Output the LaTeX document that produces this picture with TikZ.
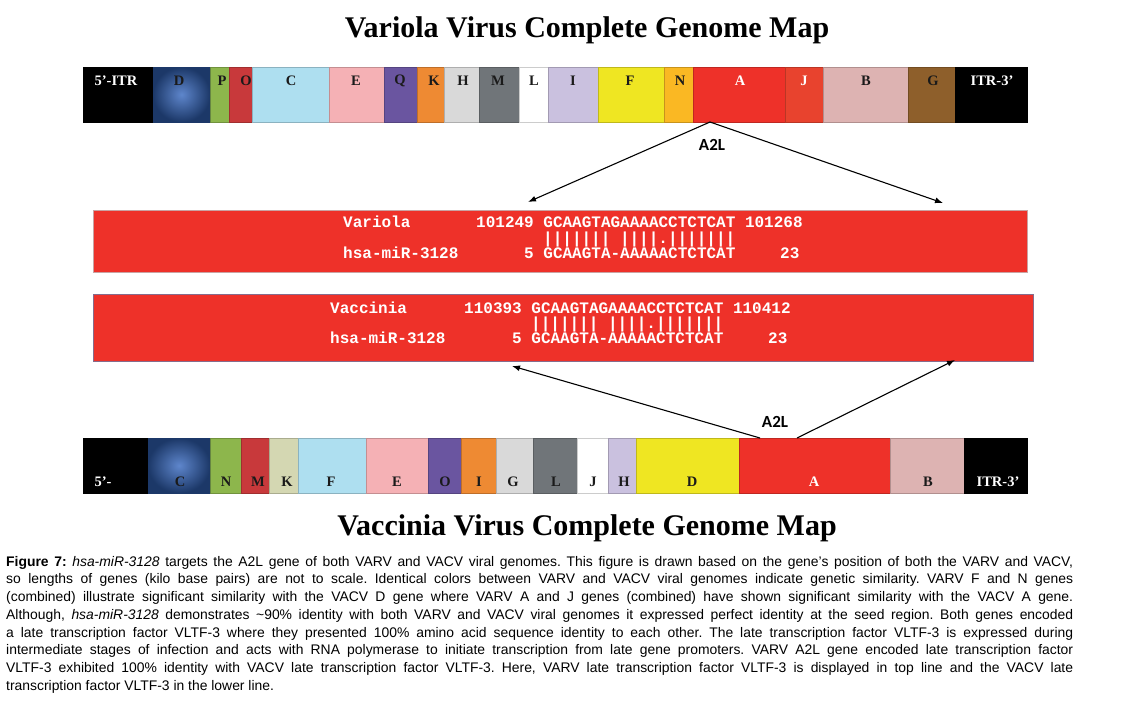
\documentclass[tikz,border=0pt]{standalone}
\usepackage{fontspec}
\setmainfont{Liberation Serif}
\setsansfont{Liberation Sans}
\setmonofont{Liberation Mono}
\newfontfamily\calfont{Carlito}
\usetikzlibrary{arrows.meta,positioning,calc}
\definecolor{gblack}{HTML}{000000}
\definecolor{gnavy}{HTML}{2E5596}
\definecolor{gnavyin}{HTML}{5E86CC}
\definecolor{gnavyout}{HTML}{1C3868}
\definecolor{ggreen}{HTML}{8DB64C}
\definecolor{gbrick}{HTML}{C8393B}
\definecolor{gsky}{HTML}{AEDFF0}
\definecolor{gpink}{HTML}{F5B1B5}
\definecolor{gviolet}{HTML}{6A55A0}
\definecolor{gorange}{HTML}{EE8A33}
\definecolor{gsilver}{HTML}{D9D9D9}
\definecolor{gslate}{HTML}{707579}
\definecolor{gwhite}{HTML}{FFFFFF}
\definecolor{glilac}{HTML}{CAC1DF}
\definecolor{gyellow}{HTML}{EFE622}
\definecolor{gamber}{HTML}{FAB823}
\definecolor{gred}{HTML}{EE3129}
\definecolor{gvermil}{HTML}{E8432E}
\definecolor{grose}{HTML}{DDB3B2}
\definecolor{gbrown}{HTML}{8E5F2B}
\definecolor{gkhaki}{HTML}{D4D7B2}
\definecolor{gink}{HTML}{1A1A1A}
\definecolor{varedge}{HTML}{C9A3A3}
\definecolor{vacedge}{HTML}{866C8C}
\tikzset{
  gseg/.style={
    draw=#1!80!black, line width=0.5pt, fill=#1,
    inner sep=0pt, outer sep=0pt, minimum height=55pt, anchor=north west},
  glab/.style={text=#1, font=\fontsize{14.5}{16}\selectfont\bfseries, inner sep=0pt},
  gtitle/.style={font=\fontsize{30}{34}\selectfont\bfseries, inner sep=0pt},
  abox/.style={
    fill=gred, draw=#1, line width=0.9pt, inner sep=0pt, outer sep=0pt,
    anchor=north west},
  aseq/.style={
    text=white, font=\ttfamily\bfseries\fontsize{16}{18}\selectfont,
    inner sep=0pt, anchor=base west},
  aflow/.style={-{Latex[length=8pt,width=6pt]}, draw=black, line width=1.1pt},
  anote/.style={font=\calfont\bfseries\fontsize{17}{20}\selectfont, inner sep=0pt},
  capt/.style={
    font=\sffamily\fontsize{13.9}{17.7}\selectfont\frenchspacing, text width=1067pt,
    align=justify, inner sep=0pt, anchor=north west},
}
\begin{document}
\begin{tikzpicture}[x=1pt,y=-1pt]
\useasboundingbox (0,0) rectangle (1122,707);
\fill[white] (0,0) rectangle (1122,707);

\node[gtitle] (vartitle) at (587,30) {Variola Virus Complete Genome Map};
\node[gtitle] (vactitle) at (587,528) {Vaccinia Virus Complete Genome Map};

% variola genome
\foreach \n/\a/\b/\c in {ITRl/83/153/gblack, D/153/210/gnavy, P/210/229/ggreen,
    O/229/252/gbrick, C/252/329/gsky, E/329/384/gpink, Q/384/417/gviolet,
    K/417/444/gorange, H/444/479/gsilver, M/479/519/gslate, L/519/548/gwhite,
    I/548/598/glilac, F/598/664/gyellow, N/664/693/gamber, A/693/785/gred,
    J/785/823/gvermil, B/823/908/grose, G/908/955/gbrown, ITRr/955/1027/gblack}
{
  \pgfmathsetmacro\w{\b-\a}
  \node[gseg=\c, minimum width=\w pt] (var\n) at (\a,67) {};
}
\shade[inner color=gnavyin, outer color=gnavyout] (varD.south west) rectangle (varD.north east);
\foreach \n/\x/\t/\tc in {ITRl/116/5’-ITR/white, D/179/D/gink, P/222/P/gink,
    O/246/O/gink, C/291/C/gink, E/356/E/gink, Q/400/Q/gink, K/434/K/gink,
    H/463/H/gink, M/498/M/gink, L/534/L/gink, I/573/I/gink, F/630/F/gink,
    N/680/N/gink, A/740/A/white, J/804/J/white, B/866/B/gink, G/933/G/gink,
    ITRr/992/ITR-3’/white}
  \node[glab=\tc] (var\n-t) at (\x,81) {\t};

% vaccinia genome
\foreach \n/\a/\b/\c in {ITRl/83/148/gblack, C/148/210/gnavy, N/210/241/ggreen,
    M/241/269/gbrick, K/269/298/gkhaki, F/298/366/gsky, E/366/428/gpink,
    O/428/461/gviolet, I/461/496/gorange, G/496/533/gsilver, L/533/577/gslate,
    J/577/608/gwhite, H/608/636/glilac, D/636/739/gyellow, A/739/890/gred,
    B/890/964/grose, ITRr/964/1027/gblack}
{
  \pgfmathsetmacro\w{\b-\a}
  \node[gseg=\c, minimum width=\w pt] (vac\n) at (\a,438) {};
}
\shade[inner color=gnavyin, outer color=gnavyout] (vacC.south west) rectangle (vacC.north east);
\foreach \n/\x/\t/\tc in {ITRl/103/5’-/white, C/180/C/gink, N/226/N/gink,
    M/258/M/gink, K/287/K/gink, F/331/F/gink, E/397/E/gink, O/445/O/gink,
    I/479/I/gink, G/513/G/gink, L/556/L/gink, J/593/J/gink, H/624/H/gink,
    D/692/D/gink, A/814/A/white, B/928/B/gink, ITRr/998/ITR-3’/white}
  \node[glab=\tc] (vac\n-t) at (\x,482) {\t};

% alignments
\node[abox=varedge, minimum width=934pt, minimum height=62pt] (varbox) at (93,210) {};
\node[aseq] (varname) at (343,227) {Variola};
\node[aseq] (varseq) at (476,227) {101249 GCAAGTAGAAAACCTCTCAT 101268};
\node[aseq] (varbars) at (543,243) {||||||| ||||.|||||||};
\node[aseq] (varmir) at (343,258) {hsa-miR-3128};
\node[aseq] (varmirseq) at (524,258) {5 GCAAGTA-AAAAACTCTCAT};
\node[aseq] (varend) at (780,258) {23};

\node[abox=vacedge, minimum width=940pt, minimum height=67pt] (vacbox) at (93,294) {};
\node[aseq] (vacname) at (330,313) {Vaccinia};
\node[aseq] (vacseq) at (464,313) {110393 GCAAGTAGAAAACCTCTCAT 110412};
\node[aseq] (vacbars) at (531,328) {||||||| ||||.|||||||};
\node[aseq] (vacmir) at (330,343) {hsa-miR-3128};
\node[aseq] (vacmirseq) at (512,343) {5 GCAAGTA-AAAAACTCTCAT};
\node[aseq] (vacend) at (768,343) {23};

% A2L arrows
\node[anote] (varA2L) at (712,145) {A2L};
\coordinate (vartipl) at (528,202);
\coordinate (vartipr) at (943,203);
\draw[aflow] ([xshift=17pt]varA.south west) -- (vartipl);
\draw[aflow] ([xshift=17pt]varA.south west) -- (vartipr);

\node[anote] (vacA2L) at (775,422) {A2L};
\coordinate (vactipl) at (512,366);
\coordinate (vactipr) at (955,360);
\draw[aflow] ([xshift=21pt]vacA.north west) -- (vactipl);
\draw[aflow] ([xshift=58pt]vacA.north west) -- (vactipr);

\node[capt] (caption) at (6,556) {\textbf{Figure 7:} \textit{hsa-miR-3128} targets the A2L gene of both VARV and VACV viral genomes. This figure is drawn based on the gene’s position of both the VARV and VACV,\linebreak
so lengths of genes (kilo base pairs) are not to scale. Identical colors between VARV and VACV viral genomes indicate genetic similarity. VARV F and N genes\linebreak
(combined) illustrate significant similarity with the VACV D gene where VARV A and J genes (combined) have shown significant similarity with the VACV A gene.\linebreak
Although, \textit{hsa-miR-3128} demonstrates \textasciitilde 90\% identity with both VARV and VACV viral genomes it expressed perfect identity at the seed region. Both genes encoded\linebreak
a late transcription factor VLTF-3 where they presented 100\% amino acid sequence identity to each other. The late transcription factor VLTF-3 is expressed during\linebreak
intermediate stages of infection and acts with RNA polymerase to initiate transcription from late gene promoters. VARV A2L gene encoded late transcription factor\linebreak
VLTF-3 exhibited 100\% identity with VACV late transcription factor VLTF-3. Here, VARV late transcription factor VLTF-3 is displayed in top line and the VACV late\linebreak
transcription factor VLTF-3 in the lower line.};

\end{tikzpicture}
\end{document}
